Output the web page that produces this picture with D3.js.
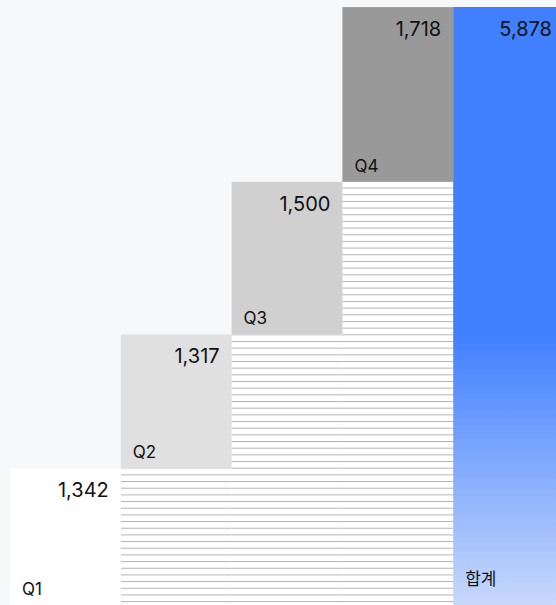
<!DOCTYPE html>
<html>
<head>
<meta charset="utf-8">
<script src="https://cdn.jsdelivr.net/npm/d3@7"></script>
<style>
  body { margin: 0; background: #f7f8fa; }
  text { font-family: Inter, "Noto Sans CJK KR", sans-serif; fill: #111; }
</style>
</head>
<body>
<div id="chart"></div>
<script>
// data
var categories = ["Q1", "Q2", "Q3", "Q4", "합계"];
var values = [1342, 1317, 1500, 1718];
var total = 5878;
var colors = ["#ffffff", "#e0e0e0", "#d0d0d0", "#999999"];

var width = 556, height = 605;

var svg = d3.select("#chart").append("svg")
  .attr("width", width)
  .attr("height", height);

svg.append("rect")
  .attr("width", width)
  .attr("height", height)
  .attr("fill", "#f7f8fa");

var defs = svg.append("defs");

// horizontal stripes for the space under each step
var pat = defs.append("pattern")
  .attr("id", "stripes")
  .attr("patternUnits", "userSpaceOnUse")
  .attr("width", 10)
  .attr("height", 6.67)
  .attr("y", 0.8);
pat.append("rect").attr("width", 10).attr("height", 6.67).attr("fill", "#ffffff");
pat.append("rect").attr("width", 10).attr("height", 1).attr("fill", "#b4b4b4");

var grad = defs.append("linearGradient")
  .attr("id", "totalGrad")
  .attr("x1", 0).attr("y1", 0).attr("x2", 0).attr("y2", 1);
grad.append("stop").attr("offset", "0").attr("stop-color", "#4080ff");
grad.append("stop").attr("offset", "0.55").attr("stop-color", "#4080ff");
grad.append("stop").attr("offset", "1").attr("stop-color", "#c8d8fb");

var x = d3.scaleBand()
  .domain(categories)
  .range([10, 564])
  .padding(0);

var y = d3.scaleLinear()
  .domain([0, total])
  .range([605, 7]);

// cumulative starts
var steps = [];
var acc = 0;
values.forEach(function (v, i) {
  steps.push({ cat: categories[i], start: acc, end: acc + v, value: v, color: colors[i] });
  acc += v;
});
var all = steps.concat([{ cat: "합계", start: 0, end: total, value: total }]);

// striped fill under steps
svg.append("g")
  .selectAll("rect")
  .data(steps.filter(function (d) { return d.start > 0; }))
  .enter().append("rect")
  .attr("x", function (d) { return x(d.cat); })
  .attr("width", x.bandwidth())
  .attr("y", function (d) { return y(d.start); })
  .attr("height", function (d) { return y(0) - y(d.start); })
  .attr("fill", "url(#stripes)");

// step bars
svg.append("g")
  .selectAll("rect")
  .data(steps)
  .enter().append("rect")
  .attr("x", function (d) { return x(d.cat); })
  .attr("width", x.bandwidth())
  .attr("y", function (d) { return y(d.end); })
  .attr("height", function (d) { return y(d.start) - y(d.end); })
  .attr("fill", function (d) { return d.color; });

// total bar
svg.append("rect")
  .attr("x", x("합계"))
  .attr("width", x.bandwidth())
  .attr("y", y(total))
  .attr("height", y(0) - y(total))
  .attr("fill", "url(#totalGrad)");

var fmt = d3.format(",");

// value labels
svg.append("g")
  .selectAll("text")
  .data(all)
  .enter().append("text")
  .attr("x", function (d) { return x(d.cat) + x.bandwidth() - 12; })
  .attr("y", function (d) { return y(d.end) + 29; })
  .attr("text-anchor", "end")
  .style("font-size", "20px")
  .text(function (d) { return fmt(d.value); });

// category labels
svg.append("g")
  .selectAll("text")
  .data(all)
  .enter().append("text")
  .attr("x", function (d) { return x(d.cat) + 12; })
  .attr("y", function (d) { return d.cat === "합계" ? y(0) - 20 : y(d.start) - 10; })
  .style("font-size", "17px")
  .text(function (d) { return d.cat; });
</script>
</body>
</html>
